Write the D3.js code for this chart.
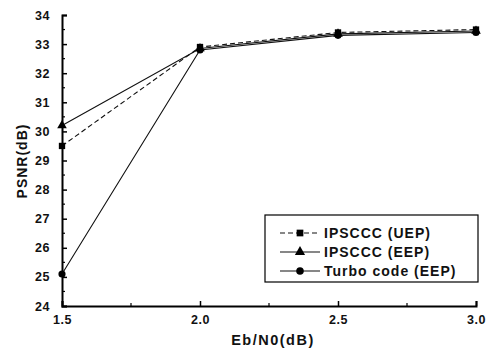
<!DOCTYPE html>
<html><head><meta charset="utf-8">
<script src="https://cdn.jsdelivr.net/npm/d3@7"></script>
<style>body{margin:0;background:#fff}svg{display:block}</style>
</head><body>
<script>
const xValues = [1.5, 2.0, 2.5, 3.0];
const uep = [29.5, 32.9, 33.4, 33.5];
const eep = [30.2, 32.85, 33.35, 33.45];
const turbo = [25.1, 32.8, 33.3, 33.4];
const seriesNames = ["IPSCCC (UEP)", "IPSCCC (EEP)", "Turbo code (EEP)"];
const xTicks = [1.5, 2.0, 2.5, 3.0];
const yTicks = [24,25,26,27,28,29,30,31,32,33,34];

const W = 493, H = 351;
const svg = d3.select("body").append("svg").attr("width", W).attr("height", H);
const x = d3.scaleLinear().domain([1.5, 3.0]).range([62, 476]);
const y = d3.scaleLinear().domain([24, 34]).range([306, 15]);
const font = "Arial, 'Liberation Sans', sans-serif";

// axes
const yAxis = d3.axisLeft(y).tickValues(yTicks).tickFormat(d3.format("d")).tickSize(-5).tickPadding(12);
const gy = svg.append("g").attr("transform", "translate(62,0)").call(yAxis);
const xAxis = d3.axisBottom(x).tickValues(xTicks).tickFormat(d3.format(".1f")).tickSize(-5).tickPadding(9);
const gx = svg.append("g").attr("transform", "translate(0,306)").call(xAxis);
[gy, gx].forEach(g => {
  g.select(".domain").attr("stroke", "#000").attr("stroke-width", 2);
  g.selectAll(".tick line").attr("stroke", "#000").attr("stroke-width", 1.5);
  g.selectAll("text").attr("font-family", font).attr("font-size", 12.5).attr("font-weight", "bold")
    .attr("letter-spacing", 0.5).attr("fill", "#111");
});
// minor ticks
const yMinor = d3.range(24.5, 34, 1);
svg.append("g").selectAll("line").data(yMinor).join("line")
  .attr("x1", 62).attr("x2", 65).attr("y1", d => y(d)).attr("y2", d => y(d)).attr("stroke", "#000").attr("stroke-width", 1.2);
const xMinor = [1.75, 2.25, 2.75];
svg.append("g").selectAll("line").data(xMinor).join("line")
  .attr("x1", d => x(d)).attr("x2", d => x(d)).attr("y1", 306).attr("y2", 303).attr("stroke", "#000").attr("stroke-width", 1.2);

// axis titles
svg.append("text").attr("transform", "translate(27,161) rotate(-90)").attr("text-anchor", "middle")
  .attr("font-family", font).attr("font-size", 14).attr("font-weight", "bold").attr("letter-spacing", 1)
  .attr("fill", "#111").text("PSNR(dB)");
svg.append("text").attr("x", 273).attr("y", 345).attr("text-anchor", "middle")
  .attr("font-family", font).attr("font-size", 14.5).attr("font-weight", "bold").attr("letter-spacing", 1.5)
  .attr("fill", "#111").text("Eb/N0(dB)");

// lines
const series = [
  {name: seriesNames[0], vals: uep, dash: "5,3", marker: "square"},
  {name: seriesNames[1], vals: eep, dash: null, marker: "triangle"},
  {name: seriesNames[2], vals: turbo, dash: null, marker: "circle"}
];
const line = d3.line().x((d, i) => x(xValues[i])).y(d => y(d));
const symMap = {square: d3.symbolSquare, triangle: d3.symbolTriangle, circle: d3.symbolCircle};
series.forEach(s => {
  svg.append("path").datum(s.vals).attr("d", line).attr("fill", "none").attr("stroke", "#111")
    .attr("stroke-width", 1.1).attr("stroke-dasharray", s.dash);
  svg.append("g").selectAll("path").data(s.vals).join("path")
    .attr("transform", (d, i) => `translate(${x(xValues[i])},${y(d)})`)
    .attr("d", d3.symbol().type(symMap[s.marker]).size(40)).attr("fill", "#000");
});

// legend
const lg = svg.append("g");
lg.append("rect").attr("x", 265).attr("y", 215).attr("width", 213).attr("height", 67)
  .attr("fill", "#fff").attr("stroke", "#000").attr("stroke-width", 1.2);
series.forEach((s, i) => {
  const yy = 233 + i * 19;
  lg.append("line").attr("x1", 280).attr("x2", 320).attr("y1", yy).attr("y2", yy)
    .attr("stroke", "#111").attr("stroke-width", 1.1).attr("stroke-dasharray", s.dash);
  lg.append("path").attr("transform", `translate(300,${yy})`)
    .attr("d", d3.symbol().type(symMap[s.marker]).size(45)).attr("fill", "#000");
  lg.append("text").attr("x", 324).attr("y", yy + 5).attr("font-family", font).attr("font-size", 14)
    .attr("font-weight", "bold").attr("letter-spacing", 1).attr("fill", "#111").text(s.name);
});
</script>
</body></html>
